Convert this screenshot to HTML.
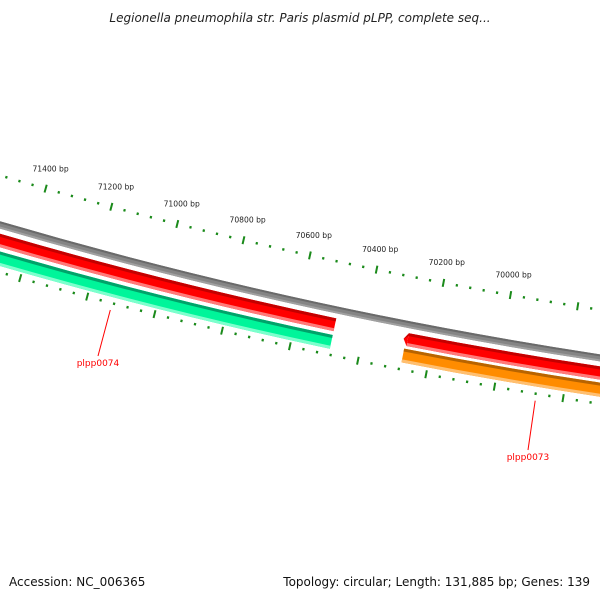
<!DOCTYPE html>
<html><head><meta charset="utf-8"><style>
html,body{margin:0;padding:0;background:#fff}
svg{display:block;font-family:"DejaVu Sans","Liberation Sans",sans-serif}
</style></head><body>
<svg id="map" width="600" height="600" viewBox="0 0 600 600" xmlns="http://www.w3.org/2000/svg">
<rect width="600" height="600" fill="#fff"/>
<text x="300" y="22" text-anchor="middle" font-size="12" font-style="italic" fill="#222">Legionella pneumophila str. Paris plasmid pLPP, complete seq...</text>
<g id="ticks"></g>
<g id="backbone"></g>
<g id="features"></g>
<g id="labels"></g>
<text x="9" y="586" font-size="12" fill="#111">Accession: NC_006365</text>
<text x="590" y="586" text-anchor="end" font-size="12" fill="#111">Topology: circular; Length: 131,885 bp; Genes: 139</text>
</svg>
<script>
const tickLabels=[71400,71200,71000,70800,70600,70400,70200,70000];
const featNames=["plpp0074","plpp0073","plpp0074-fwd","plpp0073-fwd"];
const featStart=[70486,69000,70486,69000];
const featEnd=[72000,70276,72000,70271];
const featRing=["green","orange","red","red"];
const tickStart=69560, tickEnd=71760, tickStep=40;

const NS="http://www.w3.org/2000/svg";
const CX=1295, CY=-4200;
function ang(bp){return (99.90+(bp-70000)*0.004279)*Math.PI/180;}
function pt(bp,r){const a=ang(bp);return [CX+r*Math.cos(a),CY+r*Math.sin(a)];}
function band(b1,b2,r1,r2){
  const p1=pt(b1,r1),p2=pt(b2,r1),p3=pt(b2,r2),p4=pt(b1,r2);
  return `M${p1[0]},${p1[1]} A${r1},${r1} 0 0 1 ${p2[0]},${p2[1]} L${p3[0]},${p3[1]} A${r2},${r2} 0 0 0 ${p4[0]},${p4[1]} Z`;
}
function mk(tag,attrs,parent){const e=document.createElementNS(NS,tag);for(const k in attrs)e.setAttribute(k,attrs[k]);parent.appendChild(e);return e;}

const tg=document.getElementById('ticks');
for(let bp=tickStart;bp<=tickEnd;bp+=tickStep){
  const major=(bp%200===0);
  [4563,4656].forEach(rc=>{
    const len=major?8:2.5;
    const a=pt(bp,rc-len/2),b=pt(bp,rc+len/2);
    const l=mk('line',{x1:a[0],y1:a[1],x2:b[0],y2:b[1],stroke:'#1a8a1a','stroke-width':major?2:2.2},tg);
    
    
  });
}
tickLabels.forEach(bp=>{
  const p=pt(bp,4545);
  const t=mk('text',{x:p[0],y:p[1],'text-anchor':'middle','font-size':'7.6',fill:'#222'},tg);
  t.textContent=bp+' bp';
  
  
});

const bg=document.getElementById('backbone');
let bb=mk('path',{d:band(69000,72200,4607,4614),fill:'#858585'},bg);


mk('path',{d:band(69000,72200,4607,4609),fill:'#6a6a6a'},bg);
mk('path',{d:band(69000,72200,4612,4614),fill:'#a0a0a0'},bg);

const rings={red:[4619,4632,'#ff0000','#c40000','#ff7a7a'],green:[4636,4650,'#00f59a','#00a36a','#7dffcd'],orange:[4635,4649,'#ff8c00','#b86400','#ffbf70']};
const fg=document.getElementById('features');
for(let i=0;i<featNames.length;i++){
  const [r1,r2,main,dark,light]=rings[featRing[i]];
  const g=mk('g',{},fg);
  
  
  mk('path',{d:band(featStart[i],featEnd[i],r1,r2),fill:main},g);
  mk('path',{d:band(featStart[i],featEnd[i],r1,r1+3),fill:dark},g);
  mk('path',{d:band(featStart[i],featEnd[i],r2-3,r2),fill:light},g);
  if(i===3){
    const a=pt(featEnd[i],r1),b=pt(featEnd[i],r2),tip=pt(featEnd[i]+12,(r1+r2)/2);
    mk('path',{d:`M${a[0]},${a[1]} L${tip[0]},${tip[1]} L${b[0]},${b[1]} Z`,fill:main},g);
    const c=pt(featEnd[i],r1+3);
    mk('path',{d:`M${a[0]},${a[1]} L${tip[0]},${tip[1]} L${c[0]},${c[1]} Z`,fill:dark},g);
  }
}

const lg=document.getElementById('labels');
[["plpp0074",71126,98,366],["plpp0073",69878,528,460]].forEach(([n,bp,lx,ly])=>{
  const a=pt(bp,4663);
  const l=mk('line',{x1:a[0],y1:a[1],x2:lx,y2:ly-10,stroke:'#ff0000','stroke-width':1},lg);
  
  
  const t=mk('text',{x:lx,y:ly,'text-anchor':'middle','font-size':'9',fill:'#ff0000'},lg);
  t.textContent=n;
  
  
});
</script>
</body></html>
